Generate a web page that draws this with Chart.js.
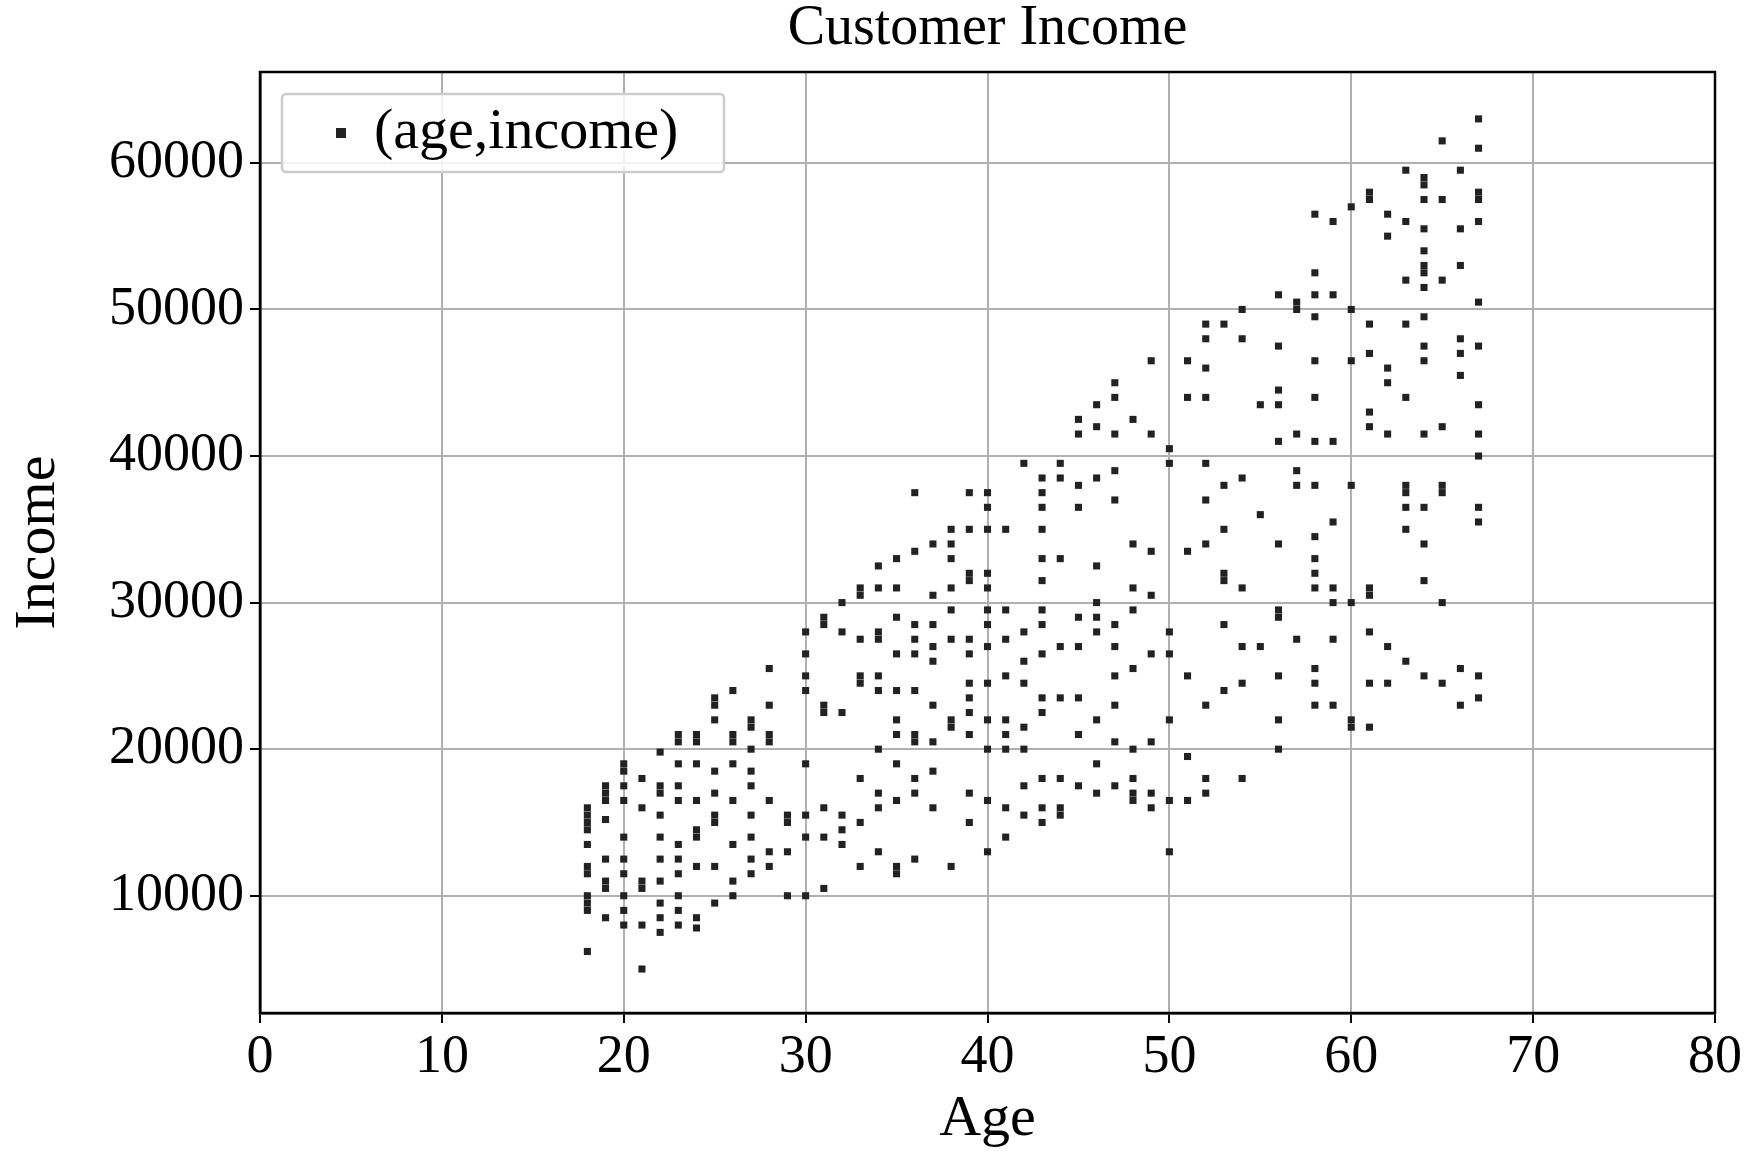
<!DOCTYPE html>
<html><head><meta charset="utf-8">
<script src="https://cdn.jsdelivr.net/npm/chart.js@4"></script>
<style>html,body{margin:0;padding:0;background:#fff}</style>
</head><body>
<canvas id="c" width="1746" height="1159"></canvas>
<script>
const ages = [18,19,20,21,22,23,24,25,26,27,28,29,30,31,32,33,34,35,36,37,38,39,40,41,42,43,44,45,46,47,48,49,50,51,52,53,54,55,56,57,58,59,60,61,62,63,64,65,66,67];
const incomesByAge = [
[16000,15500,15000,14500,13500,12000,11500,10000,9500,9000,6200],
[17500,17000,16500,15200,12500,11000,10500,8500],
[19000,18500,17500,16500,14000,12500,11500,10000,9000,8000],
[18000,16000,11000,10500,8000,5000],
[19800,17500,17000,15500,14000,12500,11000,9500,8500,7500],
[21000,20500,19000,17500,16500,13500,12500,11500,10000,9000,8000],
[21000,20500,19000,16500,14500,14000,12000,8500,7800],
[23500,23000,22000,18500,17000,15500,15000,12000,9500],
[24000,21000,20500,19000,16500,13500,11000,10000],
[22000,21500,20000,18500,17500,15500,14000,12500,11500],
[25500,23000,21000,20500,16500,13000,12000],
[15500,15000,13000,10000],
[28000,26500,25000,24000,19000,15500,14000,10000],
[29000,28500,23000,22500,16000,14000,10500],
[30000,28000,22500,15500,14500,13500],
[31000,30500,27500,25000,24500,18000,15000,12000],
[32500,31000,28000,27500,25000,24000,20000,17000,16000,13000],
[33000,31000,29000,26500,24000,22000,21000,19000,16500,12000,11500],
[37500,33500,28500,27500,26500,24000,21000,20500,18000,17000,12500],
[34000,30500,28500,27000,26000,23000,20500,18500,16000],
[35000,34000,33000,31000,29500,27500,22000,21500,12000],
[37500,35000,32000,31500,27500,26500,24500,23500,22500,21000,17000,15000],
[37500,36500,35000,32000,31000,29500,28500,27000,24500,22000,20000,16500,13000],
[35000,29500,27500,25000,22000,21000,20000,16000,14000],
[39500,28000,26000,24500,21500,20000,17500,15500],
[38500,37500,36500,35000,33000,31500,29500,28500,26500,23500,22500,18000,16000,15000],
[39500,38500,33000,27000,23500,18000,16000,15500],
[42500,41500,38000,36500,29000,27000,23500,21000,17500],
[43500,42000,38500,32500,30000,29000,28000,22000,19000,17000],
[45000,44000,41500,39000,37000,28500,27000,25000,23000,20500,17500],
[42500,34000,31000,29500,25500,20000,18000,17000,16500],
[46500,41500,33500,30500,26500,20500,17000,16000],
[40500,39500,28000,26500,22000,16500,13000],
[46500,44000,33500,25000,19500,16500],
[49000,48000,46000,44000,39500,37000,34000,23000,18000,17000],
[49000,38000,35000,32000,31500,28500,24000],
[50000,48000,38500,31000,27000,24500,18000],
[43500,36000,27000],
[51000,47500,44500,43500,41000,34000,29500,29000,25000,22000,20000],
[50500,50000,41500,39000,38000,27500],
[56500,52500,51000,49500,46500,44000,41000,38000,34500,33000,32000,31000,25500,24500,23000],
[56000,51000,41000,35500,31000,30000,27500,23000],
[57000,50000,46500,38000,30000,22000,21500],
[58000,57500,49000,47000,43000,42000,31000,30500,28000,24500,21500],
[56500,55000,46000,45000,41500,27000,24500],
[59500,56000,52000,49000,44000,38000,37500,36500,35000,26000],
[59000,58500,57500,55500,54000,53000,52500,51500,49500,47500,46500,41500,36500,34000,31500,25000],
[61500,57500,52000,42000,38000,37500,30000,24500],
[59500,55500,53000,48000,47000,45500,25500,23000],
[63000,61000,58000,57500,56000,50500,47500,43500,41500,40000,36500,35500,25000,23500]
];
const seriesLabel = '(age,income)';
const chartTitle = 'Customer Income';
const xTicks = [0,10,20,30,40,50,60,70,80];
const yTicks = [10000,20000,30000,40000,50000,60000];

const points = [];
ages.forEach((a,i)=>incomesByAge[i].forEach(v=>points.push({x:a,y:v})));

const F = 'Liberation Serif';
const frame = {
  id:'frame',
  afterDraw(ch){
    const {ctx, chartArea:a} = ch;
    ctx.save();
    ctx.strokeStyle='#000'; ctx.lineWidth=2.5;
    ctx.strokeRect(a.left,a.top,a.right-a.left,a.bottom-a.top);
    ctx.fillStyle='#000'; ctx.font='56px "'+F+'"'; ctx.textAlign='center'; ctx.textBaseline='alphabetic';
    ctx.fillText(chartTitle,(a.left+a.right)/2,44);
    const lx=a.left+22, ly=a.top+22, w=442, h=78;
    ctx.fillStyle='rgba(255,255,255,0.85)';
    ctx.strokeStyle='#ccc'; ctx.lineWidth=2.5;
    ctx.beginPath(); ctx.roundRect(lx,ly,w,h,4); ctx.fill(); ctx.stroke();
    ctx.fillStyle='#222';
    ctx.fillRect(lx+54,ly+h/2-5,10,10);
    ctx.fillStyle='#000'; ctx.font='58px "'+F+'"'; ctx.textAlign='left'; ctx.textBaseline='middle';
    ctx.fillText(seriesLabel, lx+92, ly+h/2);
    ctx.restore();
  }
};
new Chart(document.getElementById('c'),{
  type:'scatter',
  data:{datasets:[{label:seriesLabel,data:points,pointStyle:'rect',pointRadius:5,
    backgroundColor:'#222',borderColor:'#222',borderWidth:0}]},
  options:{
    responsive:false,animation:false,
    layout:{padding:{left:0,right:31,top:72,bottom:0}},
    plugins:{legend:{display:false},tooltip:{enabled:false},title:{display:false}},
    scales:{
      x:{type:'linear',min:0,max:80,
        afterBuildTicks(s){s.ticks=xTicks.map(v=>({value:v}));},
        afterFit(s){s.height=146;},
        ticks:{color:'#000',font:{family:F,size:54},padding:2,maxRotation:0,callback:v=>String(v)},
        grid:{color:'#b0b0b0',lineWidth:2,tickColor:'#000',tickLength:10},
        border:{color:'#000',width:2.5},
        title:{display:true,text:'Age',color:'#000',font:{family:F,size:58},padding:{top:-14}}},
      y:{min:2000,max:66200,
        afterBuildTicks(s){s.ticks=yTicks.map(v=>({value:v}));},
        afterFit(s){s.width=260;},
        ticks:{color:'#000',font:{family:F,size:54},padding:6,callback:v=>String(v)},
        grid:{color:'#b0b0b0',lineWidth:2,tickColor:'#000',tickLength:10},
        border:{color:'#000',width:2.5},
        title:{display:true,text:'Income',color:'#000',font:{family:F,size:58},padding:{bottom:-4}}}
    }
  },
  plugins:[frame]
});
</script>
</body></html>
